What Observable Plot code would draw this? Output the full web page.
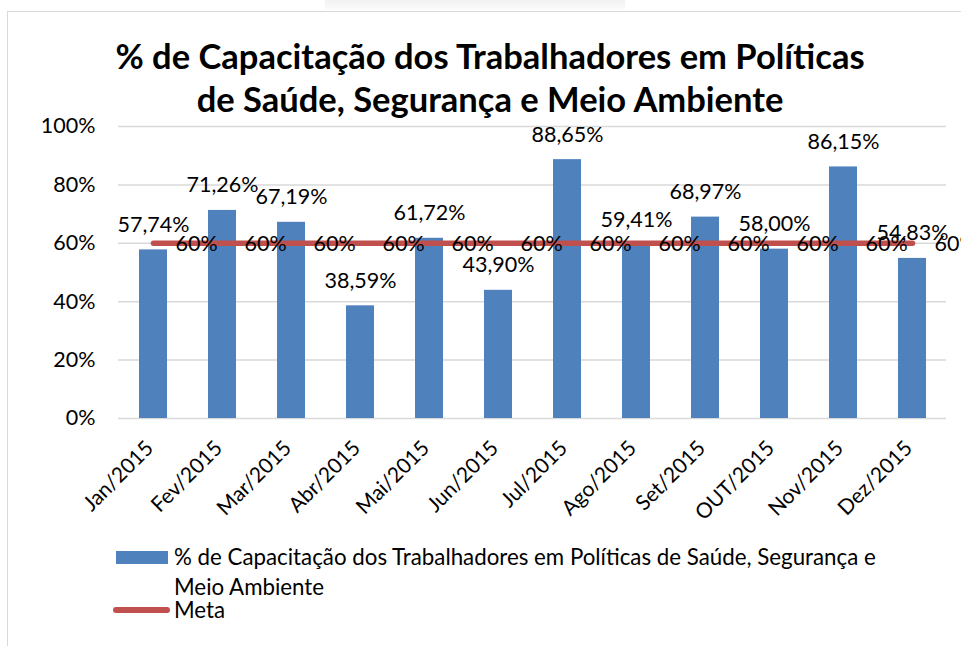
<!DOCTYPE html>
<html>
<head>
<meta charset="utf-8">
<script src="https://cdn.jsdelivr.net/npm/d3@7"></script>
<script src="https://cdn.jsdelivr.net/npm/@observablehq/plot@0.6"></script>
<style>
  html, body { margin: 0; padding: 0; background: #fff; }
  #wrap { position: relative; width: 961px; height: 646px; overflow: hidden; font-family: Lato, "Open Sans", sans-serif; color: #000; }
  #frame { position: absolute; left: 7px; top: 11px; right: -2px; bottom: -2px; border-top: 1.5px solid #d9d9d9; border-left: 1.5px solid #d9d9d9; }
  #smudge { position: absolute; left: 325px; top: 0; width: 300px; height: 9px; background: linear-gradient(#f2f2f2, #fafafa); }
  #title { position: absolute; left: 0; width: 980px; top: 34px; text-align: center; font-weight: 700; font-size: 34.5px; line-height: 43px; white-space: nowrap; }
  #chart { position: absolute; left: 0; top: 110px; }
  .lg { position: absolute; font-size: 22.3px; line-height: 30px; white-space: nowrap; }
</style>
</head>
<body>
<div id="wrap">
  <div id="smudge"></div>
  <div id="frame"></div>
  <div id="title"></div>
  <div id="chart"></div>
  <div id="legend"></div>
</div>
<script>
const titleLines = ["% de Capacitação dos Trabalhadores em Políticas", "de Saúde, Segurança e Meio Ambiente"];
const seriesName = "% de Capacitação dos Trabalhadores em Políticas de Saúde, Segurança e Meio Ambiente";
const metaName = "Meta";
const months = ["Jan/2015", "Fev/2015", "Mar/2015", "Abr/2015", "Mai/2015", "Jun/2015", "Jul/2015", "Ago/2015", "Set/2015", "OUT/2015", "Nov/2015", "Dez/2015"];
const values = [57.74, 71.26, 67.19, 38.59, 61.72, 43.90, 88.65, 59.41, 68.97, 58.00, 86.15, 54.83];
const meta = [60, 60, 60, 60, 60, 60, 60, 60, 60, 60, 60, 60];
const yTicks = [0, 20, 40, 60, 80, 100];

const BLUE = "#4F81BD", RED = "#C0504D", GRID = "#d9d9d9";
const FONT = "Lato, 'Open Sans', sans-serif";

document.getElementById("title").innerHTML = titleLines.join("<br>");

const bars = months.map((m, i) => ({month: m, value: values[i]}));
const metaData = months.map((m, i) => ({month: m, value: meta[i]}));
const fmtVal = v => v.toFixed(2).replace(".", ",") + "%";

const W = 961, H = 430;
const plot = Plot.plot({
  width: W,
  height: H,
  marginLeft: 118,
  marginRight: 15,
  marginTop: 16,
  marginBottom: 122,
  style: {fontFamily: FONT, fontSize: "21.5px", color: "#000", background: "transparent", overflow: "visible"},
  x: {domain: months, paddingInner: 0.6, paddingOuter: 0.3, axis: null},
  y: {domain: [0, 100], axis: null},
  marks: [
    Plot.ruleY(yTicks, {stroke: GRID, strokeWidth: 1.5}),
    Plot.text(yTicks, {y: d => d, text: d => d + "%", frameAnchor: "left", textAnchor: "end", dx: -23, fontSize: 21.5}),
    Plot.barY(bars, {x: "month", y: "value", fill: BLUE}),
    Plot.lineY(metaData, {x: "month", y: "value", stroke: RED, strokeWidth: 5.5, strokeLinecap: "round"}),
    Plot.text(bars, {x: "month", y: "value", text: d => fmtVal(d.value), dy: -25, fontSize: 21.5}),
    Plot.text(metaData, {x: "month", y: "value", text: d => d.value + "%", textAnchor: "start", dx: 22, dy: 1, fontSize: 21.5}),
    Plot.text(months, {x: d => d, text: d => d, frameAnchor: "bottom", rotate: -45, textAnchor: "end", dx: 1, dy: 31, fontSize: 21})
  ]
});
document.getElementById("chart").appendChild(plot);

// Legend
const legend = document.getElementById("legend");
legend.innerHTML = `
  <div style="position:absolute;left:116px;top:551px;width:52px;height:13px;background:${BLUE}"></div>
  <div class="lg" style="left:174px;top:542px;">${seriesName.replace(" Segurança e ", " Segurança e<br>")}</div>
  <div style="position:absolute;left:113px;top:607px;width:57px;height:6px;border-radius:3px;background:${RED}"></div>
  <div class="lg" style="left:174px;top:595px;">${metaName}</div>
`;
</script>
</body>
</html>
